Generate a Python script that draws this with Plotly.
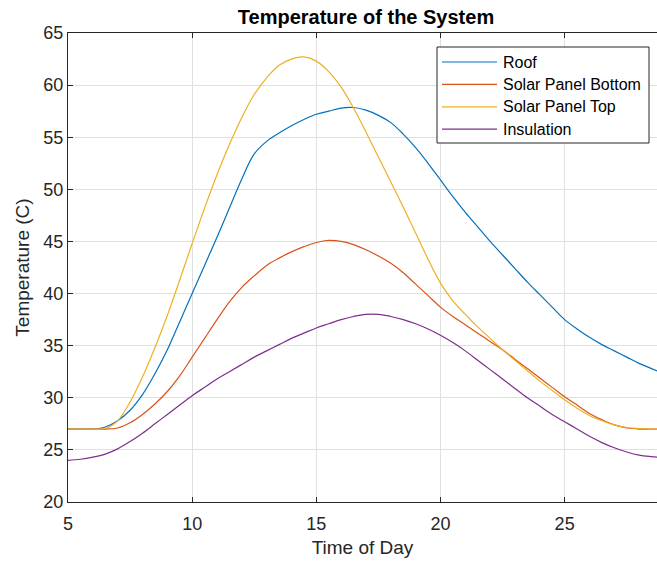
import plotly.graph_objects as go

# Hour of day (sampled every half hour)
hours = [5 + 0.5 * i for i in range(49)]

roof = [27.0, 27.0, 27.0, 27.2, 27.8, 28.8, 30.3, 32.3, 34.6, 37.3,
        40.0, 42.7, 45.4, 48.2, 51.0, 53.4, 54.6, 55.4, 56.1, 56.7,
        57.2, 57.5, 57.8, 57.85, 57.6, 57.1, 56.4, 55.3, 54.0, 52.5,
        50.9, 49.3, 47.8, 46.4, 45.0, 43.7, 42.4, 41.1, 39.9, 38.7,
        37.5, 36.6, 35.8, 35.1, 34.5, 33.9, 33.3, 32.8, 32.3]

panel_bottom = [27.0, 27.0, 27.0, 27.0, 27.1, 27.6, 28.4, 29.4, 30.6, 32.1,
                33.9, 35.7, 37.5, 39.2, 40.6, 41.7, 42.7, 43.4, 44.0, 44.5,
                44.9, 45.1, 45.0, 44.7, 44.2, 43.6, 42.9, 42.0, 40.9, 39.8,
                38.7, 37.8, 37.0, 36.2, 35.4, 34.6, 33.7, 32.8, 31.9, 31.0,
                30.1, 29.3, 28.5, 27.9, 27.4, 27.1, 27.0, 27.0, 27.0]

panel_top = [27.0, 27.0, 27.0, 27.05, 27.8, 29.6, 32.0, 34.8, 37.9, 41.3,
             44.8, 48.2, 51.4, 54.3, 56.9, 59.1, 60.7, 61.9, 62.5, 62.7,
             62.3, 61.3, 59.8, 57.8, 55.5, 53.1, 50.7, 48.3, 45.8, 43.3,
             41.0, 39.3, 38.0, 36.8, 35.7, 34.6, 33.6, 32.6, 31.6, 30.7,
             29.8, 29.0, 28.3, 27.8, 27.4, 27.15, 27.05, 27.0, 27.0]

insulation = [24.0, 24.1, 24.3, 24.6, 25.1, 25.8, 26.6, 27.5, 28.4, 29.3,
              30.2, 31.0, 31.8, 32.5, 33.2, 33.9, 34.5, 35.1, 35.7, 36.2,
              36.7, 37.1, 37.5, 37.8, 38.0, 38.0, 37.8, 37.5, 37.1, 36.6,
              36.0, 35.3, 34.5, 33.6, 32.7, 31.8, 30.9, 30.0, 29.2, 28.4,
              27.7, 27.0, 26.3, 25.7, 25.2, 24.8, 24.5, 24.35, 24.25]

series_names = ["Roof", "Solar Panel Bottom", "Solar Panel Top", "Insulation"]
series_colors = ["#0072BD", "#D95319", "#EDB120", "#7E2F8E"]
x_ticks = [5, 10, 15, 20, 25]
y_ticks = [20, 25, 30, 35, 40, 45, 50, 55, 60, 65]

W, H = 657, 565
ML, MT, MB = 68, 33, 63
PW, PH = W - ML, H - MT - MB
FONT = "Liberation Sans, Arial, sans-serif"
AXIS_COLOR = "#262626"
GRID_COLOR = "#e0e0e0"


def px_x(p):
    """Horizontal pixel position -> paper fraction."""
    return (p - ML) / PW


def px_y(p):
    """Vertical pixel position (from top) -> paper fraction."""
    return 1 - (p - MT) / PH


fig = go.Figure()
for name, color, vals in zip(series_names, series_colors,
                             [roof, panel_bottom, panel_top, insulation]):
    fig.add_trace(go.Scatter(
        x=hours, y=vals, mode="lines", name=name, showlegend=False,
        line=dict(color=color, width=1.2, shape="spline", smoothing=1.0),
    ))

# Boxed legend in the top-right corner of the axes
box_l, box_r, box_t, box_b = 437, 649, 47, 143
shapes = [dict(type="rect", xref="paper", yref="paper",
               x0=px_x(box_l), x1=px_x(box_r), y0=px_y(box_b), y1=px_y(box_t),
               line=dict(color=AXIS_COLOR, width=1), fillcolor="white",
               layer="above")]
annotations = []
for i, (name, color) in enumerate(zip(series_names, series_colors)):
    yc = 62 + i * 22.4
    shapes.append(dict(type="line", xref="paper", yref="paper",
                       x0=px_x(442), x1=px_x(497), y0=px_y(yc), y1=px_y(yc),
                       line=dict(color=color, width=1.2), layer="above"))
    annotations.append(dict(xref="paper", yref="paper", x=px_x(501), y=px_y(yc),
                            xanchor="left", yanchor="middle", showarrow=False,
                            text=name,
                            font=dict(family=FONT, size=16, color="#000000")))

fig.update_layout(
    width=W, height=H,
    margin=dict(l=ML, r=0, t=MT, b=MB),
    paper_bgcolor="white", plot_bgcolor="white",
    font=dict(family=FONT, color=AXIS_COLOR, size=18),
    showlegend=False,
    shapes=shapes,
    annotations=annotations,
    title=dict(
        text="<b>Temperature of the System</b>",
        font=dict(family=FONT, size=20, color="#000000"),
        xref="container", x=366 / W, xanchor="center",
        yref="container", y=1 - 17 / H, yanchor="middle",
    ),
    xaxis=dict(
        range=[5, 28.72], tickvals=x_ticks,
        showgrid=True, gridcolor=GRID_COLOR, gridwidth=1,
        zeroline=False, showline=True, linecolor=AXIS_COLOR, linewidth=1,
        mirror="ticks", ticks="inside", ticklen=5, tickcolor=AXIS_COLOR,
        tickfont=dict(size=18, color=AXIS_COLOR), ticklabelstandoff=5,
        title=dict(text="Time of Day", font=dict(size=19, color=AXIS_COLOR),
                   standoff=8),
    ),
    yaxis=dict(
        range=[20, 65], tickvals=y_ticks,
        showgrid=True, gridcolor=GRID_COLOR, gridwidth=1,
        zeroline=False, showline=True, linecolor=AXIS_COLOR, linewidth=1,
        mirror=False, ticks="inside", ticklen=5, tickcolor=AXIS_COLOR,
        tickfont=dict(size=18, color=AXIS_COLOR),
        title=dict(text="Temperature (C)", font=dict(size=19, color=AXIS_COLOR),
                   standoff=8),
    ),
)

fig.write_html("out.html")
